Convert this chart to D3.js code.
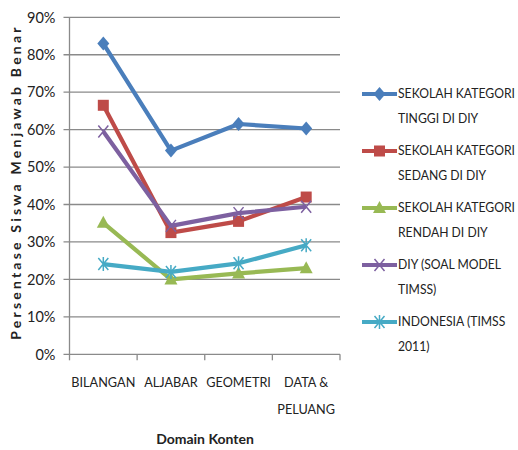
<!DOCTYPE html>
<html><head><meta charset="utf-8">
<script src="https://cdn.jsdelivr.net/npm/d3@7"></script>
<style>body{margin:0;background:#fff}svg{display:block}text{font-family:Lato,"Liberation Sans",sans-serif;fill:#222}</style>
</head><body>
<script>
const categories = [["BILANGAN"],["ALJABAR"],["GEOMETRI"],["DATA &","PELUANG"]];
const catKeys = ["BILANGAN","ALJABAR","GEOMETRI","DATA & PELUANG"];
const seriesNames = [["SEKOLAH KATEGORI","TINGGI  DI DIY"],["SEKOLAH KATEGORI","SEDANG DI DIY"],["SEKOLAH KATEGORI","RENDAH DI DIY"],["DIY (SOAL MODEL","TIMSS)"],["INDONESIA  (TIMSS","2011)"]];
const tinggi = [0.83,0.544,0.615,0.603];
const sedang = [0.665,0.325,0.355,0.42];
const rendah = [0.351,0.20,0.216,0.23];
const diy = [0.595,0.343,0.377,0.394];
const indonesia = [0.241,0.22,0.243,0.291];
const yTicks = [0,0.1,0.2,0.3,0.4,0.5,0.6,0.7,0.8,0.9];
const colors = ["#4a7ebb","#be4b48","#98b954","#7d60a0","#46aac5"];
const markers = ["diamond","square","triangle","x","star"];
const allSeries = [tinggi,sedang,rendah,diy,indonesia];

const W=518,H=450;
const svg=d3.select("body").append("svg").attr("width",W).attr("height",H);
const L=69.5,R=340,T=17.3,B=354.3;
const x=d3.scaleBand().domain(catKeys).range([L,R]);
const y=d3.scaleLinear().domain([0,0.9]).range([B,T]);

svg.append("g").selectAll("line").data(yTicks).join("line")
 .attr("x1",L-6).attr("x2",R).attr("y1",d=>y(d)).attr("y2",d=>y(d))
 .attr("stroke","#8a8a8a").attr("stroke-width",1.3);
svg.append("line").attr("x1",L).attr("x2",L).attr("y1",T).attr("y2",B).attr("stroke","#8a8a8a").attr("stroke-width",1.3);
const xt=[L,...catKeys.map(c=>x(c)+x.bandwidth())];
svg.append("g").selectAll("line").data(xt).join("line")
 .attr("x1",d=>d).attr("x2",d=>d).attr("y1",B).attr("y2",B+6).attr("stroke","#8a8a8a").attr("stroke-width",1.3);
svg.append("g").selectAll("text").data(yTicks).join("text")
 .attr("x",L-14).attr("y",d=>y(d)).attr("dy","0.36em").attr("text-anchor","end")
 .style("font-size","14.5px").attr("fill","#333").text(d=>Math.round(d*100)+"%");
catKeys.forEach((c,i)=>{
 const cx=x(c)+x.bandwidth()/2;
 const t=svg.append("text").attr("transform",`translate(${cx},387) scale(0.92,1)`).attr("text-anchor","middle").style("font-size","13.8px");
 categories[i].forEach((ln,j)=>t.append("tspan").attr("x",0).attr("dy",j?27:0).text(ln));
});
svg.append("text").attr("x",205).attr("y",444).attr("text-anchor","middle").style("font-size","14px").style("font-weight","bold").text("Domain Konten");
svg.append("text").attr("transform","translate(21,182) rotate(-90)").attr("text-anchor","middle")
 .style("font-size","14px").style("font-weight","bold").style("letter-spacing","3.2px").text("Persentase Siswa  Menjawab  Benar");

function drawMarker(g,type,cx,cy,col){
 if(type==="diamond") g.append("path").attr("d",`M${cx},${cy-7}L${cx+6},${cy}L${cx},${cy+7}L${cx-6},${cy}Z`).attr("fill",col);
 else if(type==="square") g.append("rect").attr("x",cx-5.5).attr("y",cy-5.5).attr("width",11).attr("height",11).attr("fill",col);
 else if(type==="triangle") g.append("path").attr("d",`M${cx},${cy-7}L${cx+6.5},${cy+5}L${cx-6.5},${cy+5}Z`).attr("fill",col);
 else if(type==="x") g.append("path").attr("d",`M${cx-5},${cy-6}L${cx+5},${cy+6}M${cx+5},${cy-6}L${cx-5},${cy+6}`).attr("stroke",col).attr("stroke-width",1.5);
 else if(type==="star") g.append("path").attr("d",`M${cx-5},${cy-6}L${cx+5},${cy+6}M${cx+5},${cy-6}L${cx-5},${cy+6}M${cx},${cy-7}L${cx},${cy+7}`).attr("stroke",col).attr("stroke-width",1.5);
}
const line=d3.line().x((d,i)=>x(catKeys[i])+x.bandwidth()/2).y(d=>y(d));
allSeries.forEach((s,k)=>{
 const g=svg.append("g");
 g.append("path").attr("d",line(s)).attr("fill","none").attr("stroke",colors[k]).attr("stroke-width",4.2).attr("stroke-linejoin","round");
 s.forEach((v,i)=>drawMarker(g,markers[k],x(catKeys[i])+x.bandwidth()/2,y(v),colors[k]));
});
seriesNames.forEach((nm,k)=>{
 const ly=98+k*57;
 const g=svg.append("g");
 g.append("line").attr("x1",362).attr("x2",397).attr("y1",ly-4).attr("y2",ly-4).attr("stroke",colors[k]).attr("stroke-width",4.2);
 drawMarker(g,markers[k],379.5,ly-4,colors[k]);
 const t=g.append("text").attr("transform",`translate(398,${ly}) scale(0.87,1)`).style("font-size","14px");
 nm.forEach((ln,j)=>t.append("tspan").attr("x",0).attr("dy",j?25.5:0).text(ln));
});
</script>
</body></html>
